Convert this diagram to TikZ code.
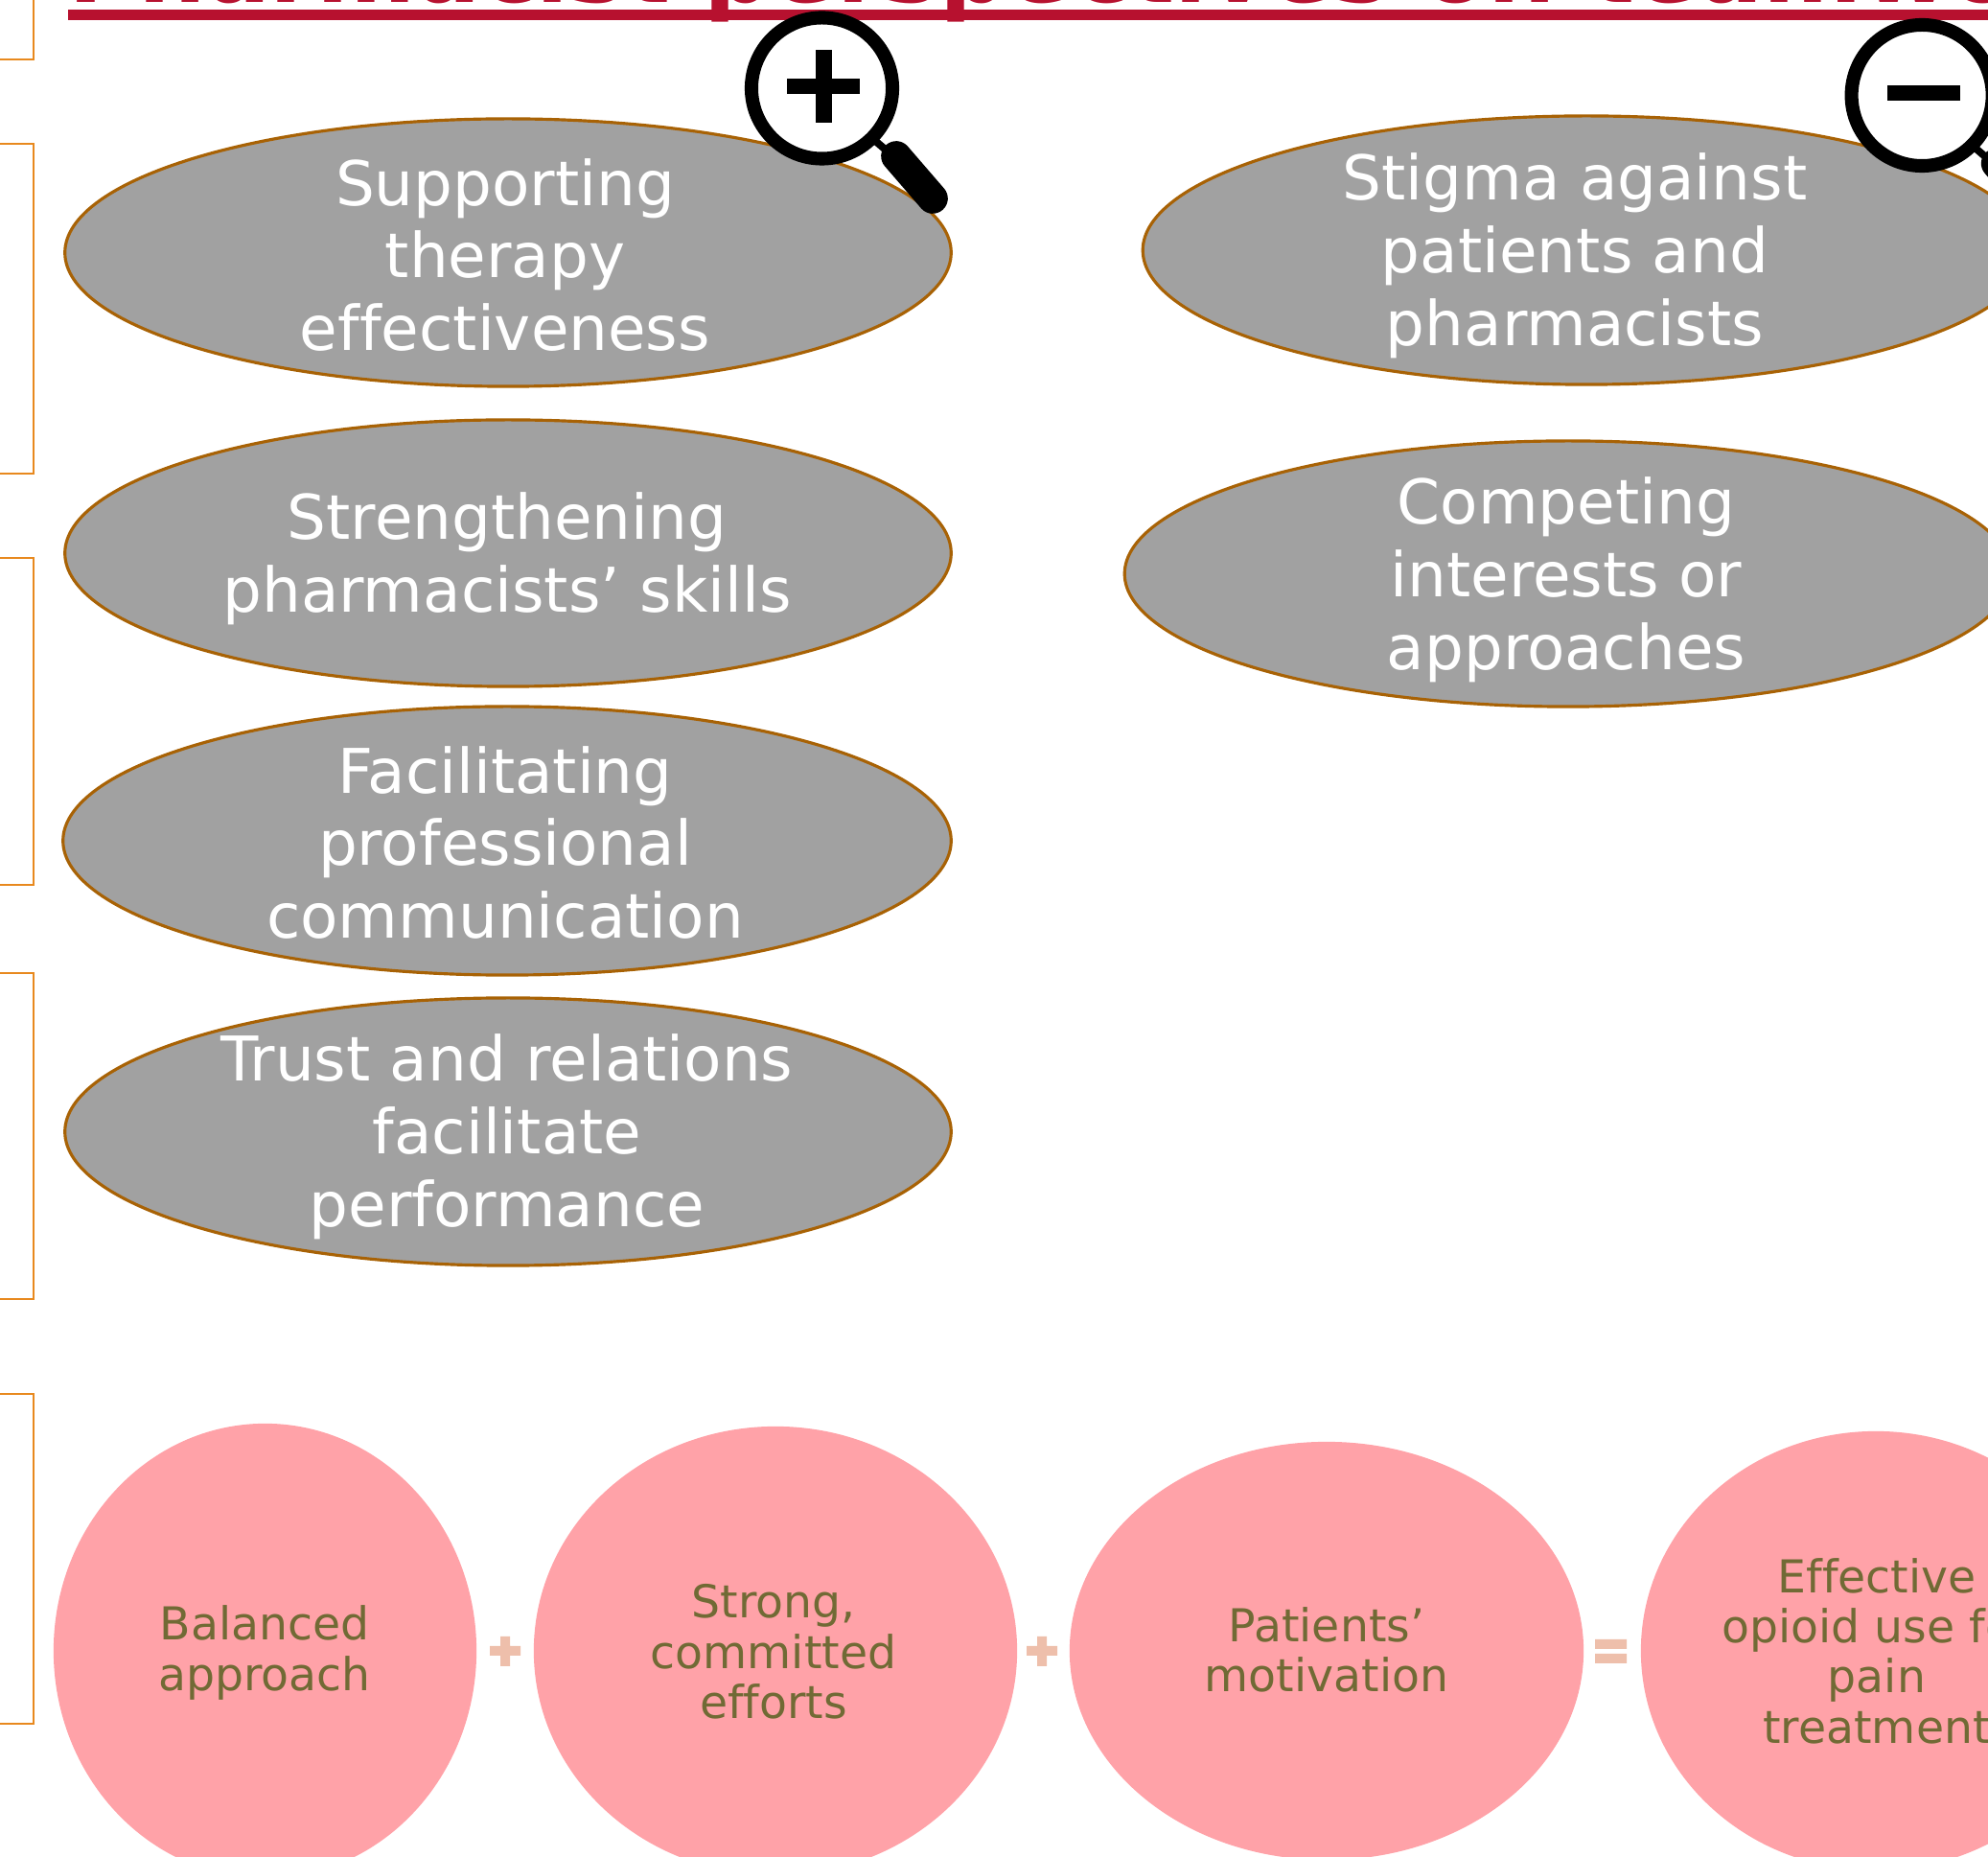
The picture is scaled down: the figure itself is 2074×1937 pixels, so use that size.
\documentclass[tikz,border=0pt]{standalone}
\usepackage{fontspec}
\setmainfont[Ligatures=NoCommon]{DejaVu Sans}
\usetikzlibrary{shapes.geometric}
\definecolor{titlered}{HTML}{B7112F}
\definecolor{boxorange}{HTML}{E8891E}
\definecolor{ellgray}{HTML}{A1A1A1}
\definecolor{ellbrown}{HTML}{A86205}
\definecolor{circpink}{HTML}{FFA2A8}
\definecolor{circtext}{HTML}{716A35}
\definecolor{opsalmon}{HTML}{EEBFAB}
\tikzset{
  grp/.style={draw=boxorange,line width=0.7pt,rectangle,inner sep=0pt,minimum width=6cm},
  ell/.style={draw=ellbrown,fill=ellgray,line width=0.9pt,ellipse,inner sep=0pt},
  elltxt/.style={text=white,align=center,inner sep=0pt,font=\fontsize{18.3}{21.6}\selectfont},
  circ/.style={fill=circpink,ellipse,inner sep=0pt},
  circtxt/.style={text=circtext,align=center,inner sep=0pt,font=\fontsize{13.45}{14.9}\selectfont},
  opbar/.style={fill=opsalmon},
  lens/.style={draw=black,fill=white,line width=4pt},
  sign/.style={fill=black}
}
\begin{document}
\begin{tikzpicture}[x=0.01cm,y=-0.01cm]
\useasboundingbox (0,0) rectangle (2074,1937);
\clip (0,0) rectangle (2074,1937);
% boxes cut by the left edge
\node[grp,minimum height=3.44cm] (g0) at (-265,-110) {};
\node[grp,minimum height=3.44cm] (g1) at (-265,322) {};
\node[grp,minimum height=3.41cm] (g2) at (-265,752.5) {};
\node[grp,minimum height=3.40cm] (g3) at (-265,1185) {};
\node[grp,minimum height=3.44cm] (g4) at (-265,1626) {};
% title
\node[anchor=base west,inner sep=0pt,text=titlered,font=\fontsize{28.2}{30}\selectfont\bfseries] (title) at (71,3) {Pharmacist perspectives on teamwork};
\path[fill=titlered] (71,10) rectangle (2074,21);
% positive side
\node[ell,minimum width=9.24cm,minimum height=2.79cm] (e1) at (530,263.5) {};
\node[ell,minimum width=9.24cm,minimum height=2.78cm] (e2) at (530,577) {};
\node[ell,minimum width=9.26cm,minimum height=2.80cm] (e3) at (529,877) {};
\node[ell,minimum width=9.24cm,minimum height=2.79cm] (e4) at (530,1180.5) {};
\node[elltxt] (t1) at (527,266) {Supporting\\therapy\\effectiveness};
\node[elltxt] (t2) at (529,583) {Strengthening\\pharmacists’ skills};
\node[elltxt] (t3) at (527,879) {Facilitating\\professional\\communication};
\node[elltxt] (t4) at (529,1186) {Trust and relations\\facilitate\\performance};
% negative side
\node[ell,minimum width=9.25cm,minimum height=2.80cm] (e5) at (1655,261) {};
\node[ell,minimum width=9.25cm,minimum height=2.77cm] (e6) at (1636,598.5) {};
\node[elltxt] (t5) at (1643,266.5) {Stigma against\\patients and\\pharmacists};
\node[elltxt] (t6) at (1634,605) {Competing\\interests or\\approaches};
% magnifying glasses
\begin{scope}
\draw[line width=2.2pt] (912,146) -- (940,170);
\draw[line width=9pt,line cap=round] (935,163) -- (973,207);
\node[circle,lens,minimum size=1.47cm,inner sep=0pt] (l1) at (857.5,92) {};
\path[sign] (821,82) rectangle (897,98);
\path[sign] (850.5,52) rectangle (867.5,128);
\end{scope}
\begin{scope}[xshift=11.47cm,yshift=-0.075cm]
\draw[line width=2.2pt] (912,146) -- (940,170);
\draw[line width=9pt,line cap=round] (935,163) -- (973,207);
\node[circle,lens,minimum size=1.47cm,inner sep=0pt] (l2) at (857.5,92) {};
\path[sign] (821,82) rectangle (897,98);
\end{scope}
% bottom row
\node[circ,minimum width=4.41cm,minimum height=4.74cm] (c1) at (276.5,1722) {};
\node[circ,minimum width=5.04cm,minimum height=4.68cm] (c2) at (809,1722) {};
\node[circ,minimum width=5.36cm,minimum height=4.36cm] (c3) at (1384,1722) {};
\node[circ,minimum width=4.90cm,minimum height=4.58cm] (c4) at (1957,1722) {};
\node[circtxt] (b1) at (276,1724) {Balanced\\approach};
\node[circtxt] (b2) at (807,1723) {Strong,\\committed\\efforts};
\node[circtxt] (b3) at (1384,1721) {Patients’\\motivation};
\node[circtxt] (b4) at (1958,1722) {Effective\\opioid use for\\pain\\treatment};
\path[opbar] (511,1717) rectangle (543,1727) (522,1707) rectangle (532,1738);
\path[opbar] (1071,1717) rectangle (1103,1727) (1082,1707) rectangle (1092,1738);
\path[opbar] (1664,1710) rectangle (1697,1720) (1664,1725) rectangle (1697,1735);
\end{tikzpicture}
\end{document}
